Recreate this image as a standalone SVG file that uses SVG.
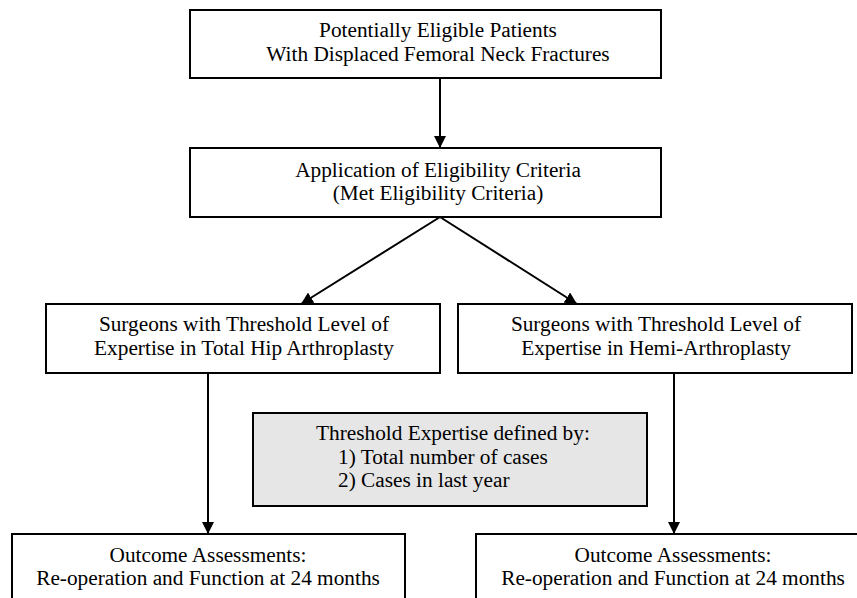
<svg xmlns="http://www.w3.org/2000/svg" width="857" height="598" viewBox="0 0 857 598">
<style>
.box{fill:#fff;stroke:#000;stroke-width:2}
.gray{fill:#e6e6e6;stroke:#000;stroke-width:2}
text{font-family:'Liberation Serif','Times New Roman',serif;font-size:21.3px;fill:#000;text-anchor:middle}
.l{text-anchor:start}
.c{stroke:#000;stroke-width:2;fill:none;marker-end:url(#ah)}
</style>
<defs>
<marker id="ah" markerWidth="12" markerHeight="12" viewBox="0 0 12 12" refX="12" refY="6" orient="auto" markerUnits="userSpaceOnUse">
<path d="M0,0 L12,6 L0,12 z" fill="#000"/>
</marker>
</defs>
<rect width="857" height="598" fill="#fff"/>
<g id="connectors">
<line class="c" x1="440" y1="78" x2="440" y2="148"/>
<line class="c" x1="440" y1="217" x2="301" y2="304"/>
<line class="c" x1="440" y1="217" x2="577" y2="304"/>
<line class="c" x1="208" y1="373" x2="208" y2="534"/>
<line class="c" x1="674" y1="373" x2="674" y2="534"/>
</g>
<g id="n1">
<rect class="box" x="190" y="10" width="471" height="68"/>
<text x="438" y="37">Potentially Eligible Patients</text>
<text x="438" y="61">With Displaced Femoral Neck Fractures</text>
</g>
<g id="n2">
<rect class="box" x="190" y="148" width="471" height="69"/>
<text x="438" y="177">Application of Eligibility Criteria</text>
<text x="438" y="200">(Met Eligibility Criteria)</text>
</g>
<g id="n3">
<rect class="box" x="46" y="304" width="394" height="69"/>
<text x="244" y="331">Surgeons with Threshold Level of</text>
<text x="244" y="355">Expertise in Total Hip Arthroplasty</text>
</g>
<g id="n4">
<rect class="box" x="458" y="304" width="394" height="69"/>
<text x="656" y="331">Surgeons with Threshold Level of</text>
<text x="656" y="355">Expertise in Hemi-Arthroplasty</text>
</g>
<g id="n5">
<rect class="gray" x="253" y="413" width="394" height="93"/>
<text class="l" x="316" y="440">Threshold Expertise defined by:</text>
<text class="l" x="338" y="464">1) Total number of cases</text>
<text class="l" x="338" y="487">2) Cases in last year</text>
</g>
<g id="n6">
<rect class="box" x="12" y="534" width="393" height="70"/>
<text x="208" y="562">Outcome Assessments:</text>
<text x="208" y="585">Re-operation and Function at 24 months</text>
</g>
<g id="n7">
<rect class="box" x="476" y="534" width="393" height="70"/>
<text x="673" y="562">Outcome Assessments:</text>
<text x="673" y="585">Re-operation and Function at 24 months</text>
</g>
</svg>
